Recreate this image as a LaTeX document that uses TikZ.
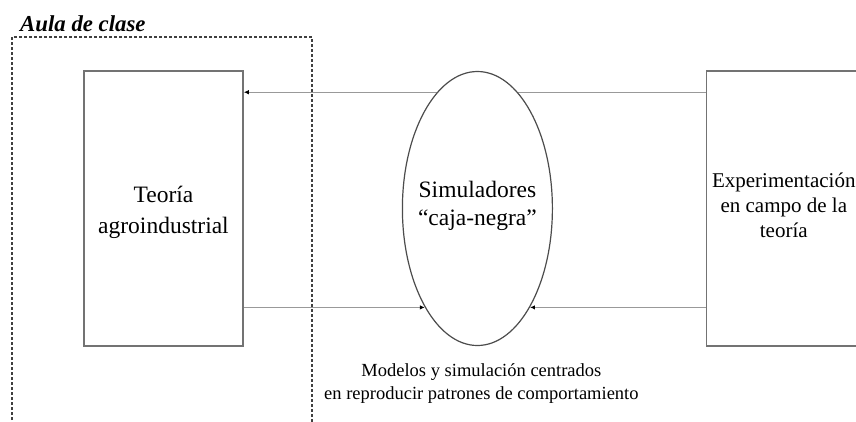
\documentclass[tikz,border=0pt]{standalone}
\usepackage{fontspec}
\setmainfont{Liberation Serif}
\usetikzlibrary{positioning, arrows.meta, shapes.geometric}

\begin{document}
\begin{tikzpicture}[x=1pt, y=-1pt, node distance=10mm]
                \tikzstyle{caja} = [rectangle, draw=black!55, line width=1.6pt, minimum height=275pt, inner sep=0pt]
                \tikzstyle{sim} = [ellipse, draw=black!70, line width=1.2pt, fill=white, minimum width=150pt, minimum height=274pt, inner sep=0pt]
                \tikzstyle{texto} = [inner sep=0pt, align=center]
                \tikzstyle{flecha} = [draw=black!40, line width=1pt, -{Latex[length=5pt, width=4.5pt, color=black]}]

                \useasboundingbox (0,0) rectangle (856,421);
                \clip (0,0) rectangle (856,421);

                % Aula de clase (dashed frame)
                \draw[black!75, line width=1.4pt, dash pattern=on 3pt off 2pt] (12,425) |- (312,37) -- (312,425);
                \node[anchor=base west, inner sep=0pt, font=\fontsize{22.8}{26}\selectfont\bfseries\itshape] (aula) at (20,31.5) {Aula de clase};

                % Boxes
                \node[caja, minimum width=159pt] (teoria) at (163.5,208.5) {};
                \node[caja, minimum width=166pt, right=462pt of teoria] (campo) {};
                \node[texto, font=\fontsize{23.5}{31}\selectfont, yshift=-4pt] (teoriatxt) at (teoria.center) {Teoría\\agroindustrial};
                \node[texto, font=\fontsize{21}{25}\selectfont, yshift=3pt] (campotxt) at ([xshift=78pt]campo.west) {Experimentación\\en campo de la\\teoría};

                % Arrows
                \draw[flecha, {Latex[length=5pt, width=4.5pt, color=black]}-] ([yshift=-22pt]teoria.north east) -- ([yshift=-22pt]campo.north west);

                % Ellipse
                \node[sim, right=158pt of teoria] (simulador) {};
                \node[texto, font=\fontsize{23.5}{28}\selectfont, yshift=3pt] (simtxt) at (simulador.center) {Simuladores\\“caja-negra”};

                \draw[flecha] (simulador.242 -| teoria.east) -- (simulador.242);
                \draw[flecha] (simulador.298 -| campo.west) -- (simulador.298);

                % Caption
                \node[texto, below=17pt of simulador, xshift=4pt, font=\fontsize{18.5}{23}\selectfont] (nota) {Modelos y simulación centrados\\en reproducir patrones de comportamiento};
\end{tikzpicture}
\end{document}
